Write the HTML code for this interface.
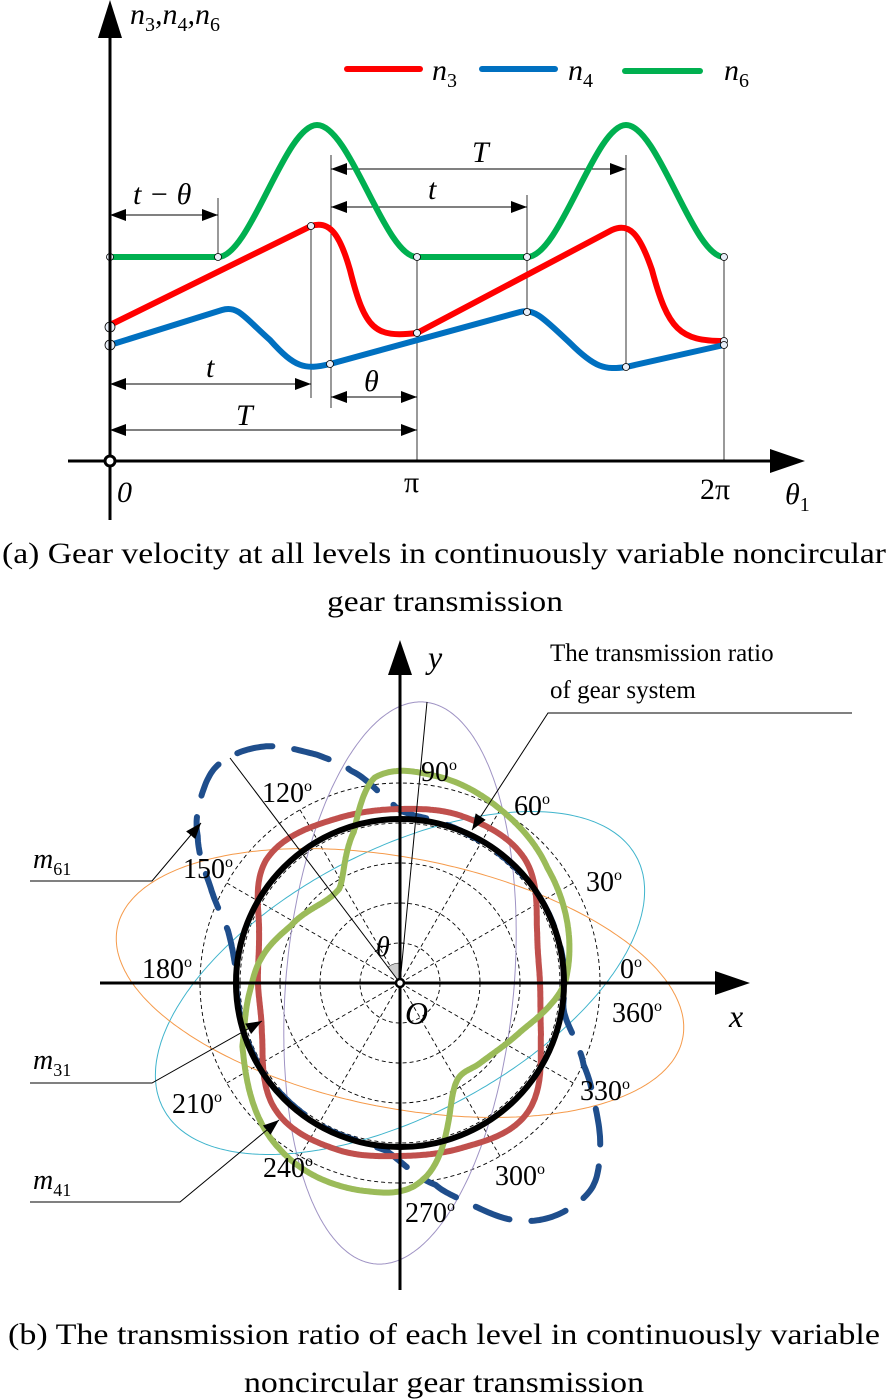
<!DOCTYPE html>
<html><head><meta charset="utf-8"><style>
html,body{margin:0;padding:0;background:#fff}
svg{display:block}
text{font-family:"Liberation Serif",serif;fill:#000}
.it{font-style:italic}
</style></head><body>
<svg id="s" width="889" height="1400" viewBox="0 0 889 1400" xmlns="http://www.w3.org/2000/svg">
<defs>
<marker id="ah2" markerWidth="16" markerHeight="12" refX="16" refY="6" orient="auto-start-reverse" markerUnits="userSpaceOnUse"><path d="M0,0 L16,6 L0,12 Z" fill="#000"/></marker>
</defs>
<!-- ========== PART A ========== -->
<g stroke="#000" stroke-width="0.8" fill="none">
<line x1="218" y1="198" x2="218" y2="257"/>
<line x1="311" y1="226" x2="311" y2="398"/>
<line x1="331" y1="155" x2="331" y2="408"/>
<line x1="417" y1="257" x2="417" y2="461"/>
<line x1="527" y1="195" x2="527" y2="312"/>
<line x1="626" y1="155" x2="626" y2="367"/>
<line x1="724" y1="257" x2="724" y2="461"/>
</g>
<g stroke="#000" stroke-width="1" fill="none">
<line x1="110" y1="215" x2="218" y2="215" marker-start="url(#ah2)" marker-end="url(#ah2)"/>
<line x1="331" y1="169" x2="626" y2="169" marker-start="url(#ah2)" marker-end="url(#ah2)"/>
<line x1="331" y1="207" x2="527" y2="207" marker-start="url(#ah2)" marker-end="url(#ah2)"/>
<line x1="110" y1="384" x2="311" y2="384" marker-start="url(#ah2)" marker-end="url(#ah2)"/>
<line x1="331" y1="397" x2="417" y2="397" marker-start="url(#ah2)" marker-end="url(#ah2)"/>
<line x1="110" y1="430" x2="417" y2="430" marker-start="url(#ah2)" marker-end="url(#ah2)"/>
</g>
<g fill="none" stroke-width="6" stroke-linecap="round">
<path stroke="#00b050" d="M110,257 L218,257 C250,257 285,125 317,125 C350,125 385,257 417,257 L527,257 C560,257 595,125 626,125 C658,125 693,257 724,257"/>
<path stroke="#ff0000" d="M110,325 L311,226 C330,220 340,235 350,270 C365,330 375,338 417,333 L612,230 C630,222 640,235 652,270 C668,330 680,341 724,341"/>
<path stroke="#0070c0" d="M110,345 L222,310 C238,305 245,318 270,340 C295,368 305,370 330,364 L520,312 C535,308 545,320 570,343 C595,368 605,370 626,367 L724,345"/>
</g>
<g fill="#e8eef8" stroke="#000" stroke-width="0.8">
<circle cx="110" cy="257" r="3.5"/><circle cx="218" cy="257" r="3.5"/><circle cx="311" cy="226" r="3.5"/>
<circle cx="417" cy="257" r="3.5"/><circle cx="527" cy="257" r="3.5"/><circle cx="724" cy="257" r="3.5"/>
<circle cx="110" cy="327" r="5"/><circle cx="110" cy="345" r="5"/><circle cx="330" cy="364" r="3.5"/>
<circle cx="417" cy="333" r="3.5"/><circle cx="527" cy="312" r="3.5"/><circle cx="626" cy="367" r="3.5"/>
<circle cx="724" cy="341" r="3.5"/><circle cx="724" cy="345" r="3.5"/>
</g>
<g stroke="#000" stroke-width="3">
<line x1="110" y1="520" x2="110" y2="30"/>
<line x1="68" y1="461" x2="775" y2="461"/>
</g>
<path d="M98,38 L110,0 L122,38 Z"/>
<path d="M770,449 L805,461 L770,473 Z"/>
<circle cx="110" cy="461" r="5" fill="#fff" stroke="#000" stroke-width="3"/>
<g fill="none" stroke-width="6" stroke-linecap="round">
<line x1="347" y1="69" x2="420" y2="69" stroke="#ff0000"/>
<line x1="482" y1="69" x2="555" y2="69" stroke="#0070c0"/>
<line x1="625" y1="71" x2="700" y2="71" stroke="#00b050"/>
</g>
<g font-size="30">
<text x="432" y="80" class="it">n<tspan font-size="20" dy="7" font-style="normal">3</tspan></text>
<text x="568" y="80" class="it">n<tspan font-size="20" dy="7" font-style="normal">4</tspan></text>
<text x="724" y="80" class="it">n<tspan font-size="20" dy="7" font-style="normal">6</tspan></text>
<text x="130" y="24" class="it">n<tspan font-size="20" dy="7" font-style="normal">3</tspan><tspan dy="-7">,</tspan>n<tspan font-size="20" dy="7" font-style="normal">4</tspan><tspan dy="-7">,</tspan>n<tspan font-size="20" dy="7" font-style="normal">6</tspan></text>
<text x="133" y="204" class="it">t − θ</text>
<text x="472" y="162" class="it">T</text>
<text x="428" y="199" class="it">t</text>
<text x="206" y="377" class="it">t</text>
<text x="364" y="391" class="it">θ</text>
<text x="236" y="425" class="it">T</text>
<text x="117" y="502" class="it">0</text>
<text x="404" y="492">π</text>
<text x="700" y="499">2π</text>
<text x="785" y="504" class="it">θ<tspan font-size="20" dy="7" font-style="normal">1</tspan></text>
</g>
<g font-size="30">
<text x="2" y="563" textLength="884" lengthAdjust="spacingAndGlyphs">(a) Gear velocity at all levels in continuously variable noncircular</text>
<text x="327" y="611" textLength="236" lengthAdjust="spacingAndGlyphs">gear transmission</text>
<text x="8" y="1344" textLength="872" lengthAdjust="spacingAndGlyphs">(b) The transmission ratio of each level in continuously variable</text>
<text x="244" y="1392" textLength="400" lengthAdjust="spacingAndGlyphs">noncircular gear transmission</text>
</g>
<!-- ========== PART B ========== -->
<g id="pol"></g>
</svg>
<script>
(function(){
var NS="http://www.w3.org/2000/svg",g=document.getElementById("pol");
var cx=400,cy=983;
function el(t,a,p){var e=document.createElementNS(NS,t);for(var k in a)e.setAttribute(k,a[k]);(p||g).appendChild(e);return e;}
[40,80,120,160,200].forEach(function(r){el("circle",{cx:cx,cy:cy,r:r,fill:"none",stroke:"#000","stroke-width":0.9,"stroke-dasharray":"4 3"});});
for(var a=0;a<360;a+=30){if(a%90==0)continue;var t=a*Math.PI/180;el("line",{x1:cx,y1:cy,x2:cx+200*Math.cos(t),y2:cy-200*Math.sin(t),stroke:"#000","stroke-width":0.9,"stroke-dasharray":"4 3"});}
function ell(A,B,ang){var p=[],r=ang*Math.PI/180;for(var i=0;i<=360;i++){var u=i*Math.PI/180,x=A*Math.cos(u),y=B*Math.sin(u);p.push([cx+x*Math.cos(r)-y*Math.sin(r),cy-(x*Math.sin(r)+y*Math.cos(r))]);}return "M"+p.map(function(q){return q[0].toFixed(1)+","+q[1].toFixed(1)}).join("L")+"Z";}
el("path",{d:ell(282,114,85),fill:"none",stroke:"#9f93c4","stroke-width":1});
el("path",{d:ell(268,132,28),fill:"none",stroke:"#3fb4cc","stroke-width":1});
el("path",{d:ell(288,125,-11),fill:"none",stroke:"#f59a4a","stroke-width":1});
function polar(pts){
 pts.sort(function(a,b){return a[0]-b[0]});var n=pts.length;
 function rAt(d){d=((d%360)+360)%360;var i=0;while(i<n-1&&pts[i+1][0]<=d)i++;
  var p1=pts[i],p2=pts[(i+1)%n],p0=pts[(i-1+n)%n],p3=pts[(i+2)%n];
  var d1=p1[0],d2=p2[0];if(d<d1)d+=360;if(d2<=d1)d2+=360;var s=(d-d1)/(d2-d1);
  var r0=p0[1],r1=p1[1],r2=p2[1],r3=p3[1];
  return 0.5*((2*r1)+(-r0+r2)*s+(2*r0-5*r1+4*r2-r3)*s*s+(-r0+3*r1-3*r2+r3)*s*s*s);}
 var out=[];for(var k=0;k<=720;k++){var d=k/2,r=rAt(d),t=d*Math.PI/180;out.push((cx+r*Math.cos(t)).toFixed(1)+","+(cy-r*Math.sin(t)).toFixed(1));}
 return "M"+out.join("L");}
var red=[[0,140],[20,146],[45,176],[70,178],[90,174],[110,176],[137,182],[160,150],[180,142],[200,147],[226,178],[250,178],[270,173],[290,176],[314,182],[340,150]];
var green=[[0,165],[38,187],[59,200],[80,210],[97,207],[107,158],[123,112],[152,123],[170,141],[185,152],[202,170],[234,205],[260,211],[277,197],[297,119],[314,113],[338,130]];
var blue=[[0,165],[30,164],[60,163],[85,168],[92,178],[103,218],[110,243],[120,273],[130,284],[138,270],[144,250],[153,213],[163,180],[175,165],[210,163],[240,163],[265,168],[280,205],[287,230],[296,264],[304,280],[313,281],[320,261],[328,230],[336,201],[349,168]];
el("path",{d:polar(blue),fill:"none",stroke:"#1f4e8c","stroke-width":6,"stroke-dasharray":"36 22","stroke-linecap":"round"});
el("path",{d:polar(red),fill:"none",stroke:"#c0504d","stroke-width":6});
el("path",{d:polar(green),fill:"none",stroke:"#9bbb59","stroke-width":6});
el("circle",{cx:cx,cy:cy,r:164,fill:"none",stroke:"#000","stroke-width":6});
el("path",{d:"M400,983 L400,963 A20,20 0 0 0 388,967 Z",fill:"#ccc",stroke:"#000","stroke-width":0.5});
el("line",{x1:cx,y1:cy,x2:230,y2:758,stroke:"#000","stroke-width":1});
el("line",{x1:cx,y1:cy,x2:427,y2:702,stroke:"#000","stroke-width":1});
el("line",{x1:100,y1:983,x2:725,y2:983,stroke:"#000","stroke-width":3});
el("line",{x1:400,y1:1290,x2:400,y2:665,stroke:"#000","stroke-width":3});
el("path",{d:"M388,675 L400,640 L412,675 Z",fill:"#000"});
el("path",{d:"M715,971 L750,983 L715,995 Z",fill:"#000"});
el("circle",{cx:cx,cy:cy,r:4,fill:"#fff",stroke:"#000","stroke-width":2.5});
var cs={fill:"none",stroke:"#000","stroke-width":1};
el("polyline",Object.assign({points:"852,713 548,713 472,830","marker-end":"url(#ah2)"},cs));
el("polyline",Object.assign({points:"30,881 152,881 201,823","marker-end":"url(#ah2)"},cs));
el("polyline",Object.assign({points:"30,1083 152,1083 262,1021","marker-end":"url(#ah2)"},cs));
el("polyline",Object.assign({points:"30,1202 180,1202 279,1120","marker-end":"url(#ah2)"},cs));
function tx(x,y,s,html,cls){var e=el("text",{x:x,y:y,"font-size":s});if(cls)e.setAttribute("class",cls);e.innerHTML=html;return e;}
var deg=function(v){return v+'<tspan font-size="16" dy="-11">o</tspan>';};
var L=[[421,781,"90"],[262,802,"120"],[514,815,"60"],[183,878,"150"],[586,891,"30"],[142,978,"180"],[620,978,"0"],[612,1022,"360"],[172,1113,"210"],[580,1100,"330"],[263,1177,"240"],[495,1185,"300"],[405,1222,"270"]];
L.forEach(function(l){tx(l[0],l[1],28,deg(l[2]));});
tx(376,956,28,"θ","it");
tx(405,1024,32,"O","it");
tx(729,1027,32,"x","it");
tx(428,668,32,"y","it");
tx(550,661,25,"The transmission ratio");
tx(550,698,25,"of gear system");
var sub=function(n){return 'm<tspan font-size="18" dy="7" font-style="normal">'+n+'</tspan>';};
tx(33,868,28,sub("61"),"it");
tx(33,1069,28,sub("31"),"it");
tx(33,1189,28,sub("41"),"it");
})();
</script>
</body></html>
